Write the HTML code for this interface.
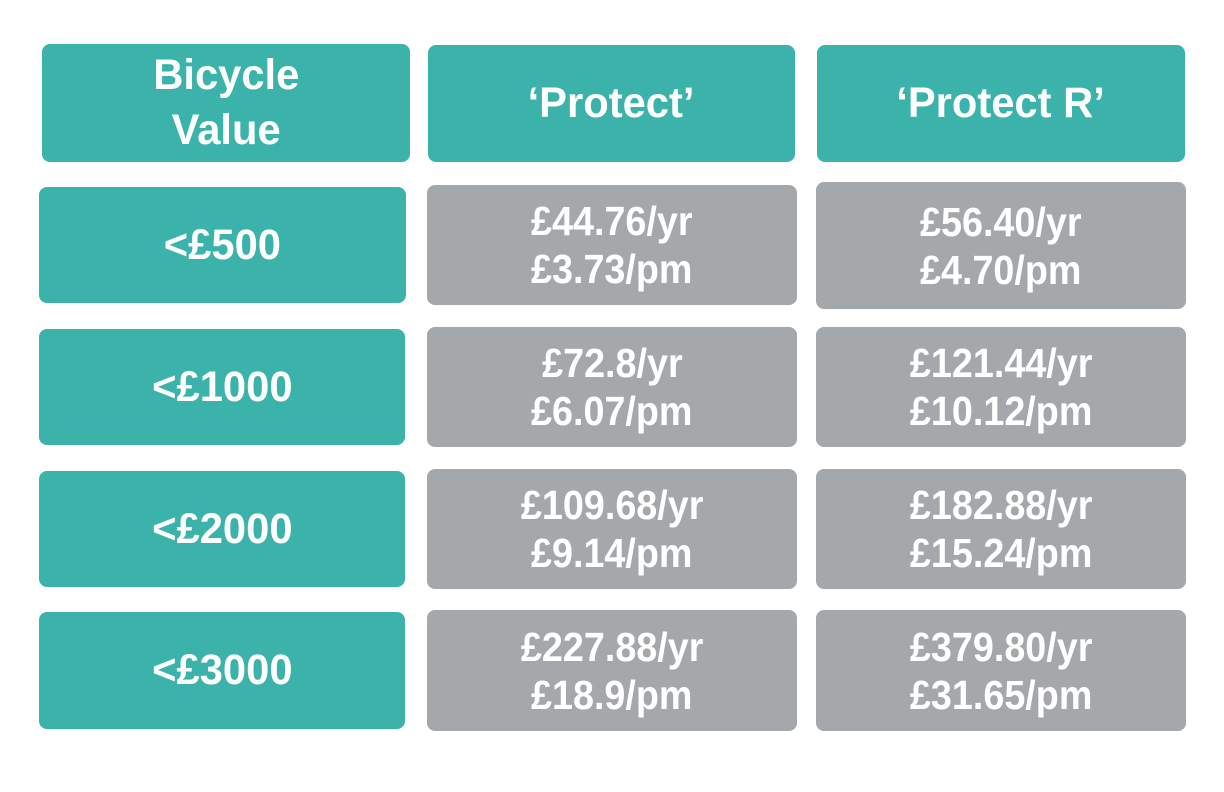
<!DOCTYPE html>
<html><head><style>
body{margin:0;width:1224px;height:792px;background:#fff;position:relative;overflow:hidden;font-family:"Liberation Sans",sans-serif;font-weight:bold;color:#fff}
.b{position:absolute;border-radius:8px;display:flex;align-items:center;justify-content:center;flex-direction:column}
.t{background:#3bb3aa}.g{background:#a5a8ab}
.b span{display:block;transform:scaleX(0.92);white-space:nowrap;font-size:41px;line-height:48px}
.h span{font-size:43px;line-height:55px;transform:scaleX(0.97)}
</style></head><body>
<div class="b t h" style="left:42px;top:44px;width:368px;height:118px"><span>Bicycle</span><span>Value</span></div>
<div class="b t h" style="left:428px;top:45px;width:367px;height:117px"><span>‘Protect’</span></div>
<div class="b t h" style="left:817px;top:45px;width:368px;height:117px"><span>‘Protect R’</span></div>

<div class="b t h" style="left:39px;top:187px;width:367px;height:116px"><span>&lt;£500</span></div>
<div class="b g" style="left:427px;top:185px;width:370px;height:120px"><span>£44.76/yr</span><span>£3.73/pm</span></div>
<div class="b g" style="left:816px;top:182px;width:370px;height:127px"><span>£56.40/yr</span><span>£4.70/pm</span></div>

<div class="b t h" style="left:39px;top:329px;width:366px;height:116px"><span>&lt;£1000</span></div>
<div class="b g" style="left:427px;top:327px;width:370px;height:120px"><span>£72.8/yr</span><span>£6.07/pm</span></div>
<div class="b g" style="left:816px;top:327px;width:370px;height:120px"><span>£121.44/yr</span><span>£10.12/pm</span></div>

<div class="b t h" style="left:39px;top:471px;width:366px;height:116px"><span>&lt;£2000</span></div>
<div class="b g" style="left:427px;top:469px;width:370px;height:120px"><span>£109.68/yr</span><span>£9.14/pm</span></div>
<div class="b g" style="left:816px;top:469px;width:370px;height:120px"><span>£182.88/yr</span><span>£15.24/pm</span></div>

<div class="b t h" style="left:39px;top:612px;width:366px;height:117px"><span>&lt;£3000</span></div>
<div class="b g" style="left:427px;top:610px;width:370px;height:121px"><span>£227.88/yr</span><span>£18.9/pm</span></div>
<div class="b g" style="left:816px;top:610px;width:370px;height:121px"><span>£379.80/yr</span><span>£31.65/pm</span></div>
</body></html>
